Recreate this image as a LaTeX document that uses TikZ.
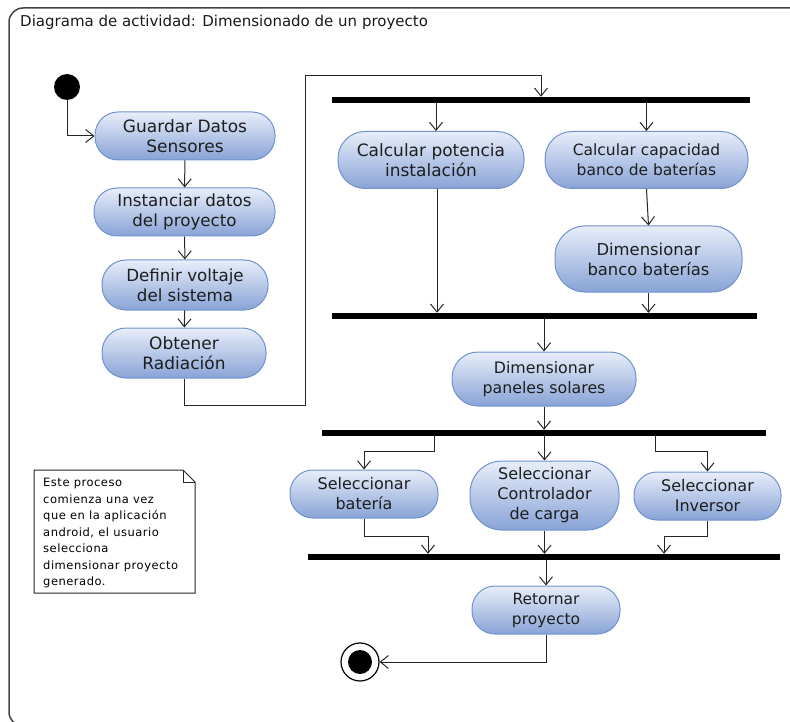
\documentclass[tikz,border=0pt]{standalone}
\usepackage{fontspec}
\setmainfont{DejaVu Sans}
\newfontfamily\notefont[LetterSpace=4.5]{DejaVu Sans}
\usetikzlibrary{arrows.meta,calc}

\definecolor{actborder}{RGB}{112,146,206}
\definecolor{acttop}{RGB}{232,238,250}
\definecolor{actbot}{RGB}{136,163,214}
\definecolor{acttext}{RGB}{30,30,30}
\definecolor{framecol}{RGB}{70,70,70}

\begin{document}
\begin{tikzpicture}[x=1pt,y=-1pt,
  act/.style={draw=actborder, line width=1pt, top color=acttop, bottom color=actbot,
    text=acttext, align=center, font=\fontsize{16}{20}\selectfont, inner sep=0pt},
  txtsize/.style={font=\fontsize{#1}{20}\selectfont},
  bar/.style={fill=black, inner sep=0pt, minimum height=6pt},
  flow/.style={draw=black!85, line width=1pt,
    -{Straight Barb[length=8pt,width=13pt,line width=1pt]}},
  notebox/.style={draw=black!85, line width=1pt, fill=white}]

\useasboundingbox (0,0) rectangle (790,722);

% diagram frame
\draw[framecol, line width=1.5pt, rounded corners=14pt] (9,8) rectangle (810,726);
\node[anchor=base west, inner sep=0pt, font=\fontsize{15}{17}\selectfont, text=black!90] (title) at (20,27)
  {Diagrama de actividad: Dimensionado de un proyecto};

% initial and final states
\node[circle, fill=black, minimum size=26pt, inner sep=0pt] (init) at (67,87) {};
\node[circle, draw=black, line width=1.2pt, fill=white, minimum size=38pt, inner sep=0pt] (final) at (360,662) {};
\fill[black] (final.center) circle (12pt);

% actions
\node[act, txtsize=17, minimum width=180pt, minimum height=48pt, rounded corners=23pt] (gds) at (185,136) {Guardar Datos\\Sensores};
\node[act, txtsize=16.7, minimum width=181pt, minimum height=48pt, rounded corners=23pt] (inst) at (184.5,212) {Instanciar datos\\del proyecto};
\node[act, txtsize=16.7, minimum width=166pt, minimum height=50pt, rounded corners=24pt] (volt) at (185,285) {Definir voltaje\\del sistema};
\node[act, txtsize=17, minimum width=164pt, minimum height=50pt, rounded corners=24pt] (obt) at (184,353) {Obtener\\Radiación};

\node[act, txtsize=17, minimum width=186pt, minimum height=57pt, rounded corners=27pt] (calcpot) at (431,160) {Calcular potencia\\instalación};
\node[act, txtsize=15.5, minimum width=203pt, minimum height=57pt, rounded corners=27pt] (calccap) at (646.5,160) {Calcular capacidad\\banco de baterías};
\node[act, txtsize=16.4, minimum width=187pt, minimum height=66pt, rounded corners=30pt] (dimban) at (648.5,259) {Dimensionar\\banco baterías};
\node[act, txtsize=15.8, minimum width=184pt, minimum height=54pt, rounded corners=26pt] (dimpan) at (544,379) {Dimensionar\\paneles solares};

\node[act, minimum width=148pt, minimum height=48pt, rounded corners=23pt] (selbat) at (364,494) {Seleccionar\\batería};
\node[act, minimum width=149pt, minimum height=69pt, rounded corners=32pt] (selcon) at (544.5,495.5) {Seleccionar\\Controlador\\de carga};
\node[act, minimum width=147pt, minimum height=48pt, rounded corners=23pt] (selinv) at (707.5,496) {Seleccionar\\Inversor};
\node[act, txtsize=15.5, minimum width=148pt, minimum height=48pt, rounded corners=23pt] (ret) at (546,610) {Retornar\\proyecto};

% fork / join bars
\node[bar, minimum width=418pt] (bar1) at (541,100) {};
\node[bar, minimum width=425pt] (bar2) at (544.5,316) {};
\node[bar, minimum width=444pt] (bar3) at (544,433) {};
\node[bar, minimum width=472pt] (bar4) at (544,557) {};

% note
\draw[notebox] (34,470) -- (183,470) -- (195,482) -- (195,593) -- (34,593) -- cycle;
\draw[black!85, line width=1pt] (183,470) -- (183,482) -- (195,482);
\node[anchor=north west, align=left, inner sep=0pt, font=\notefont\fontsize{11.5}{16.5}\selectfont, text=black] (note) at (43,478)
  {Este proceso\\comienza una vez\\que en la aplicación\\android, el usuario\\selecciona\\dimensionar proyecto\\generado.};

% bend points
\coordinate (j1) at (305,405);
\coordinate (j2) at (305,76);
\coordinate (p1) at ([xshift=5pt]calcpot.north);
\coordinate (p2) at ([xshift=6pt]calcpot.south);
\coordinate (f1) at (434,451);
\coordinate (f2) at (655,451);
\coordinate (g1) at (428,536);
\coordinate (g2) at (664,536);

% control flow
\draw[flow] (init) |- (gds.west);
\draw[flow] (gds) -- (inst);
\draw[flow] (inst) -- (volt);
\draw[flow] (volt) -- (obt);
\draw[flow] (obt.south) |- (j1) -- (j2) -| (bar1.north);

\draw[flow] (bar1.south -| p1) -- (p1);
\draw[flow] (bar1.south -| calccap.north) -- (calccap.north);
\draw[flow] (calccap.south) -- (dimban.north);
\draw[flow] (p2) -- (bar2.north -| p2);
\draw[flow] (dimban.south) -- (bar2.north -| dimban.south);

\draw[flow] (bar2.south -| dimpan.north) -- (dimpan.north);
\draw[flow] (dimpan.south) -- (bar3.north -| dimpan.south);

\draw[flow] (bar3.south -| f1) -- (f1) -| (selbat.north);
\draw[flow] (bar3.south -| selcon.north) -- (selcon.north);
\draw[flow] (bar3.south -| f2) -- (f2) -| (selinv.north);

\draw[flow] (selbat.south) |- (g1) -- (bar4.north -| g1);
\draw[flow] (selcon.south) -- (bar4.north -| selcon.south);
\draw[flow] (selinv.south) |- (g2) -- (bar4.north -| g2);

\draw[flow] (bar4.south -| ret.north) -- (ret.north);
\draw[flow] (ret.south) |- (final.east);
\end{tikzpicture}
\end{document}
